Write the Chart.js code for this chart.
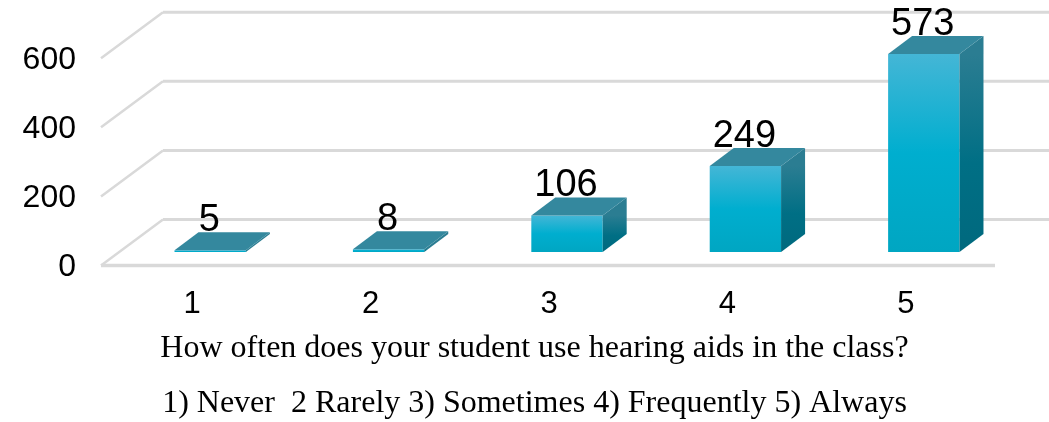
<!DOCTYPE html>
<html>
<head>
<meta charset="utf-8">
<style>html,body{margin:0;padding:0;background:#fff}canvas{display:block}</style>
<script src="https://cdn.jsdelivr.net/npm/chart.js@4"></script>
</head>
<body>
<canvas id="c" width="1049" height="422"></canvas>
<script>
const categories = ['1', '2', '3', '4', '5'];
const responses = [5, 8, 106, 249, 573];
const tickValues = [0, 200, 400, 600];
const captionLines = [
  'How often does your student use hearing aids in the class?',
  '1) Never  2 Rarely 3) Sometimes 4) Frequently 5) Always'
];

const AREA_LEFT = 103, AREA_RIGHT = 995, AREA_TOP = 11.5, AREA_BOTTOM = 265.5;
const FLOOR_DX = 62, FLOOR_DY = 46;     // wall is this far behind the front axis
const BAR_DX = 18, BAR_DY = -13.5;      // bars stand this far in from the front axis
const DEPTH_DX = 24, DEPTH_DY = 18;     // bar depth

const scene3d = {
  id: 'scene3d',
  beforeDatasetsDraw(chart) {
    const c = chart.ctx, y = chart.scales.y, right = chart.width;
    c.save();
    c.strokeStyle = '#d9d9d9';
    y.ticks.forEach(t => {
      const py = y.getPixelForValue(t.value);
      c.lineWidth = 2.5;
      c.beginPath();
      c.moveTo(AREA_LEFT - 2, py);
      c.lineTo(AREA_LEFT - 2 + FLOOR_DX, py - FLOOR_DY);
      c.stroke();
      c.lineWidth = 3;
      c.beginPath();
      c.moveTo(AREA_LEFT - 2 + FLOOR_DX, py - FLOOR_DY);
      c.lineTo(right, py - FLOOR_DY);
      c.stroke();
    });
    const p0 = y.getPixelForValue(0);
    c.lineWidth = 3.5;
    c.beginPath();
    c.moveTo(AREA_LEFT - 2, p0);
    c.lineTo(AREA_RIGHT, p0);
    c.stroke();
    c.restore();
    c.save();
    c.translate(BAR_DX, BAR_DY);
  },
  afterDatasetsDraw(chart) {
    const c = chart.ctx;
    const bars = chart.getDatasetMeta(0).data;
    bars.forEach(b => {
      const l = b.x - b.width / 2, r = b.x + b.width / 2, top = b.y, base = b.base;
      let g = c.createLinearGradient(0, top, 0, base);
      g.addColorStop(0, '#2b7d92');
      g.addColorStop(0.55, '#006f85');
      g.addColorStop(1, '#00697e');
      c.fillStyle = g;
      c.beginPath();
      c.moveTo(r, top);
      c.lineTo(r + DEPTH_DX, top - DEPTH_DY);
      c.lineTo(r + DEPTH_DX, base - DEPTH_DY);
      c.lineTo(r, base);
      c.closePath();
      c.fill();
      c.fillStyle = '#34889e';
      c.beginPath();
      c.moveTo(l, top);
      c.lineTo(l + DEPTH_DX, top - DEPTH_DY);
      c.lineTo(r + DEPTH_DX, top - DEPTH_DY);
      c.lineTo(r, top);
      c.closePath();
      c.fill();
    });
    c.fillStyle = '#000';
    c.font = '38px "Liberation Sans"';
    c.textAlign = 'center';
    c.textBaseline = 'alphabetic';
    bars.forEach((b, i) => {
      c.fillText(String(responses[i]), b.x - 1, b.y - DEPTH_DY - 1);
    });
    c.restore();
  },
  afterDraw(chart) {
    const c = chart.ctx;
    c.save();
    c.fillStyle = '#000';
    c.font = '32px "Liberation Serif"';
    c.textAlign = 'center';
    c.textBaseline = 'alphabetic';
    c.fillText(captionLines[0], 534.5, 357);
    c.fillText(captionLines[1], 534.5, 412);
    c.restore();
  }
};

new Chart(document.getElementById('c'), {
  type: 'bar',
  data: {
    labels: categories,
    datasets: [{
      data: responses,
      categoryPercentage: 0.4,
      barPercentage: 1,
      borderWidth: 0,
      clip: false,
      backgroundColor(ctx) {
        const y = ctx.chart.scales.y;
        if (!y || ctx.type !== 'data') return '#00aecf';
        const a = y.getPixelForValue(ctx.raw), b = y.getPixelForValue(0);
        if (!isFinite(a) || !isFinite(b)) return '#00aecf';
        const g = ctx.chart.ctx.createLinearGradient(0, a, 0, b);
        g.addColorStop(0, '#44b6d6');
        g.addColorStop(0.5, '#00aecf');
        g.addColorStop(1, '#00a6c2');
        return g;
      }
    }]
  },
  options: {
    responsive: false,
    animation: false,
    events: [],
    layout: { autoPadding: false, padding: { top: AREA_TOP, right: 1049 - AREA_RIGHT, left: 0, bottom: 0 } },
    plugins: { legend: { display: false }, title: { display: false }, tooltip: { enabled: false } },
    scales: {
      x: {
        offset: true,
        border: { display: false },
        grid: { display: false, drawTicks: false },
        ticks: { color: '#000', font: { family: 'Liberation Sans', size: 31 }, padding: 20, maxRotation: 0 },
        afterFit(s) { s.height = 422 - AREA_BOTTOM; }
      },
      y: {
        bounds: 'data',
        min: 0,
        max: 635,
        border: { display: false },
        grid: { display: false, drawTicks: false },
        ticks: { color: '#000', font: { family: 'Liberation Sans', size: 32 }, padding: 27, autoSkip: false, labelOffset: 1.5 },
        afterBuildTicks(s) { s.ticks = tickValues.map(v => ({ value: v })); },
        afterFit(s) { s.width = AREA_LEFT; }
      }
    }
  },
  plugins: [scene3d]
});
</script>
</body>
</html>
